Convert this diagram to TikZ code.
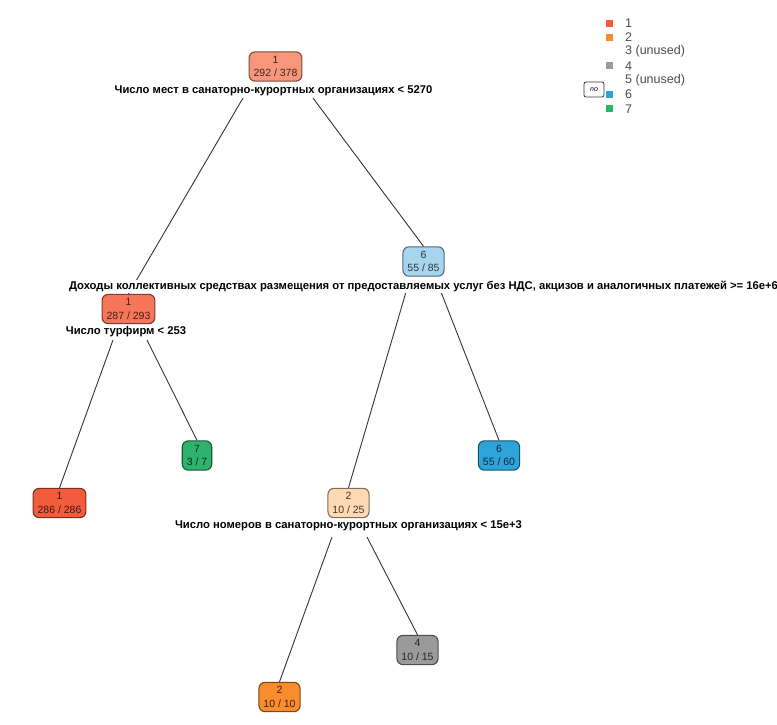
\documentclass[tikz,border=0pt]{standalone}
\usepackage{fontspec}
\setmainfont{Liberation Sans}
\usetikzlibrary{positioning}
\definecolor{cRoot}{HTML}{F7967B}
\definecolor{cRed}{HTML}{F25C3D}
\definecolor{cRedM}{HTML}{F7765A}
\definecolor{cOrange}{HTML}{F98C2D}
\definecolor{cPeach}{HTML}{FDD9B4}
\definecolor{cGray}{HTML}{9A9A9A}
\definecolor{cBlue}{HTML}{2EA3D9}
\definecolor{cBlueL}{HTML}{A8D5EE}
\definecolor{cGreen}{HTML}{2DB36B}

\begin{document}
\begin{tikzpicture}
	[
	x=1pt, y=-1pt,
	nodebox/.style={rectangle,rounded corners=6pt,draw=#1!50!black,fill=#1,text=#1!25!black,
	      line width=1.1pt,align=center,inner xsep=4.5pt,inner ysep=4.2pt,
	      font=\fontsize{10.5}{13.5}\selectfont},
	splitlabel/.style={draw=none,fill=white,inner sep=1pt,font=\bfseries\fontsize{11.25}{12}\selectfont},
	legsq/.style={rectangle,fill=#1,minimum size=7pt,inner sep=0pt},
	legtext/.style={anchor=west,inner sep=0pt,text=black!70,font=\fontsize{12.5}{13}\selectfont},
	edge/.style={draw=black!80,line width=0.9pt}
	]
		\useasboundingbox (0,0) rectangle (777,724);
		\clip (0,0) rectangle (777,724);

		% branch starts
		\coordinate (r-l) at (243, 98);
		\coordinate (r-r) at (313, 98);
		\coordinate (a-l) at (113,340);
		\coordinate (a-r) at (147,340);
		\coordinate (b-l) at (406,292);
		\coordinate (b-r) at (441,292);
		\coordinate (c-l) at (332,537);
		\coordinate (c-r) at (367,537);

		% nodes
		\node[nodebox=cRoot]   (root) at (275.5, 66.5) {1\\292 / 378};
		\node[nodebox=cRedM]   (n1)   at (128.5,309.0) {1\\287 / 293};
		\node[nodebox=cBlueL]  (n6)   at (423.5,261.5) {6\\55 / 85};
		\node[nodebox=cRed]    (l1)   at ( 59.5,503.0) {1\\286 / 286};
		\node[nodebox=cGreen]  (l7)   at (197.0,455.5) {7\\3 / 7};
		\node[nodebox=cBlue]   (l6)   at (499.0,455.5) {6\\55 / 60};
		\node[nodebox=cPeach]  (n2)   at (348.5,503.0) {2\\10 / 25};
		\node[nodebox=cGray]   (l4)   at (417.5,650.0) {4\\10 / 15};
		\node[nodebox=cOrange] (l2)   at (279.5,697.0) {2\\10 / 10};

		% straight paths
		\foreach \from/\to in {r-l/n1,r-r/n6,a-l/l1,a-r/l7,b-l/n2,b-r/l6,c-l/l2,c-r/l4}
			\draw[edge] (\from) -- (\to.north);

		% labels
		\node[splitlabel] (s-root) at (273.5, 90.5) {Число мест в санаторно-курортных организациях < 5270};
		\node[splitlabel] (s-n1)   at (126.0,332.0) {Число турфирм < 253};
		\node[splitlabel] (s-n6)   at (423.5,286.5) {Доходы коллективных средствах размещения от предоставляемых услуг без НДС, акцизов и аналогичных платежей >= 16e+6};
		\node[splitlabel] (s-n2)   at (348.5,526.0) {Число номеров в санаторно-курортных организациях < 15e+3};

		% legend
		\node[draw=black!80,line width=0.8pt,rounded corners=2pt,minimum width=20pt,minimum height=15pt,inner sep=0pt,
		      font=\itshape\fontsize{7}{7}\selectfont] (nobox) at (594,89.5) {no};
		\foreach \i/\txt/\col in {0/1/cRed,1/2/cOrange,2/3 (unused)/white,3/4/cGray,4/5 (unused)/white,5/6/cBlue,6/7/cGreen}
		{
			\node[legsq=\col] (sq\i) at (609.5,23+14.3*\i) {};
			\node[legtext] (lt\i) at (625,23+14.3*\i) {\txt};
		}

	\end{tikzpicture}
\end{document}
